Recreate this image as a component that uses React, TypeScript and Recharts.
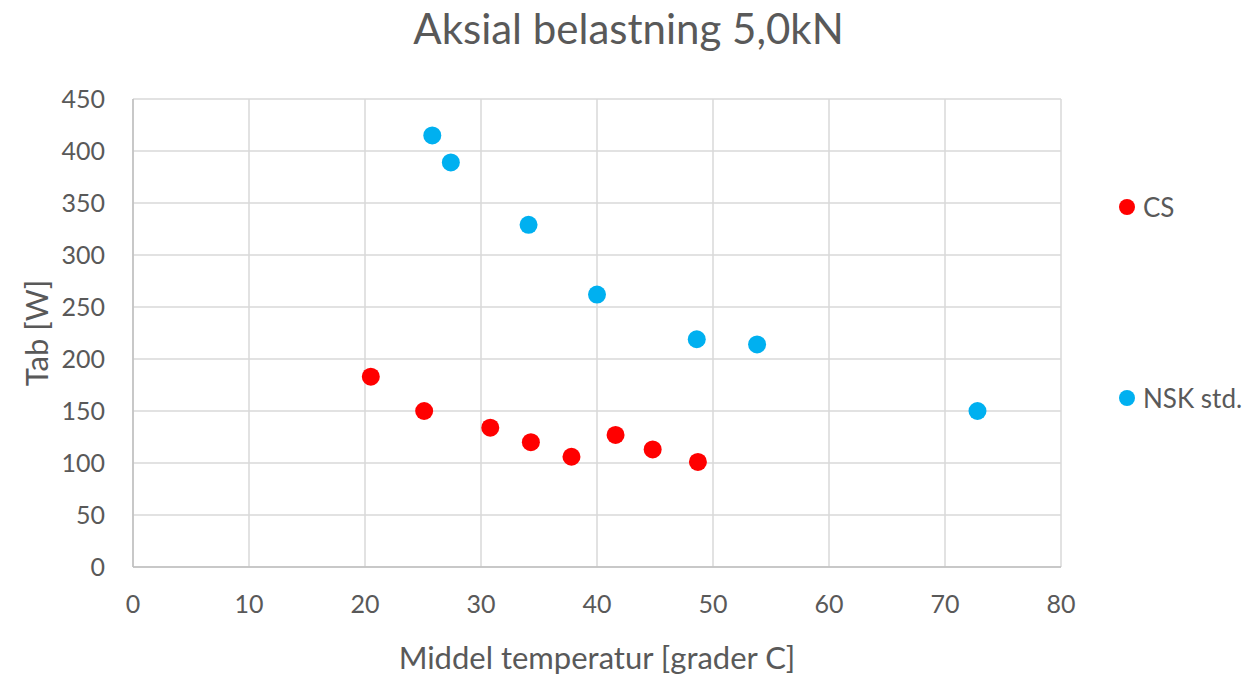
import {
  ScatterChart,
  Scatter,
  XAxis,
  YAxis,
  CartesianGrid,
  Label
} from 'recharts';

const csTemp = [20.5, 25.1, 30.8, 34.3, 37.8, 41.6, 44.8, 48.7];
const csLoss = [183, 150, 134, 120, 106, 127, 113, 101];

const nskTemp = [25.8, 27.4, 34.1, 40.0, 48.6, 53.8, 72.8];
const nskLoss = [415, 389, 329, 262, 219, 214, 150];

const xTicks = [0, 10, 20, 30, 40, 50, 60, 70, 80];
const yTicks = [0, 50, 100, 150, 200, 250, 300, 350, 400, 450];

const csData = csTemp.map((t, i) => ({ temp: t, loss: csLoss[i] }));
const nskData = nskTemp.map((t, i) => ({ temp: t, loss: nskLoss[i] }));

const FONT = 'Lato, "Noto Sans", sans-serif';
const TEXT = '#595959';

const dot = (color: string) => (props: any) => (
  <circle cx={props.cx} cy={props.cy} r={9} fill={color} />
);

// legend entries sit far apart on the right, like the spreadsheet original
const legendItems = [
  { name: 'CS', color: '#FF0000', top: 192 },
  { name: 'NSK std.', color: '#00B0F0', top: 383 }
];

export default function App() {
  return (
    <div style={{ position: 'absolute', left: 0, top: 0, width: 1257, height: 677, background: '#fff' }}>
      <div
        style={{
          position: 'absolute',
          left: 0,
          top: 3,
          width: 1257,
          textAlign: 'center',
          fontFamily: FONT,
          fontSize: 42,
          color: TEXT
        }}
      >
        Aksial belastning 5,0kN
      </div>
      {legendItems.map((s) => (
        <div
          key={s.name}
          style={{
            position: 'absolute',
            left: 1119,
            top: s.top,
            display: 'flex',
            alignItems: 'center',
            gap: 8,
            fontFamily: FONT,
            fontSize: 26,
            lineHeight: '30px',
            color: TEXT,
            whiteSpace: 'nowrap'
          }}
        >
          <span
            style={{
              width: 16,
              height: 16,
              borderRadius: '50%',
              background: s.color,
              display: 'inline-block'
            }}
          />
          {s.name}
        </div>
      ))}
      <ScatterChart
        width={1257}
        height={677}
        margin={{ top: 99, right: 196, bottom: 50, left: 73 }}
      >
        <CartesianGrid stroke="#d9d9d9" strokeWidth={1.5} />
        <XAxis
          type="number"
          dataKey="temp"
          domain={[0, 80]}
          ticks={xTicks}
          interval={0}
          tickLine={false}
          tickSize={0}
          tickMargin={28}
          height={60}
          stroke="#bfbfbf"
          strokeWidth={1.5}
          tick={{ fill: TEXT, fontSize: 25, fontFamily: FONT }}
        >
          <Label
            value="Middel temperatur [grader C]"
            position="insideBottom"
            offset={-42}
            style={{ fill: TEXT, fontSize: 31, fontFamily: FONT }}
          />
        </XAxis>
        <YAxis
          type="number"
          dataKey="loss"
          domain={[0, 450]}
          ticks={yTicks}
          interval={0}
          tickLine={false}
          tickSize={0}
          tickMargin={28}
          width={60}
          stroke="#bfbfbf"
          strokeWidth={1.5}
          tick={{ fill: TEXT, fontSize: 25, fontFamily: FONT }}
        >
          <Label
            value="Tab [W]"
            angle={-90}
            position="insideLeft"
            offset={-36}
            style={{ fill: TEXT, fontSize: 31, fontFamily: FONT, textAnchor: 'middle' }}
          />
        </YAxis>
        <Scatter name="CS" data={csData} fill="#FF0000" shape={dot('#FF0000')} isAnimationActive={false} />
        <Scatter name="NSK std." data={nskData} fill="#00B0F0" shape={dot('#00B0F0')} isAnimationActive={false} />
      </ScatterChart>
    </div>
  );
}
